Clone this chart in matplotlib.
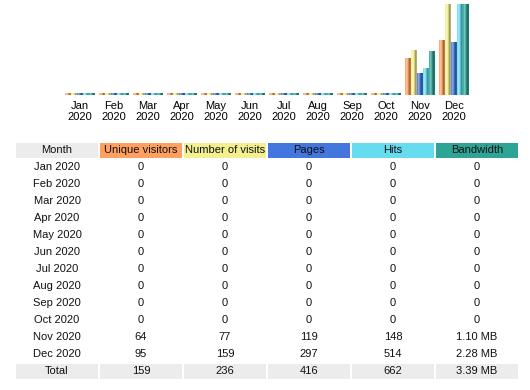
import numpy as np
import matplotlib
matplotlib.use('Agg')
import matplotlib.pyplot as plt
from matplotlib.colors import LinearSegmentedColormap, to_rgb
from matplotlib.patches import Rectangle

plt.rcParams['font.family'] = ['Liberation Sans', 'DejaVu Sans']

months = ['Jan', 'Feb', 'Mar', 'Apr', 'May', 'Jun', 'Jul', 'Aug', 'Sep', 'Oct', 'Nov', 'Dec']
year = '2020'
visitors = [0, 0, 0, 0, 0, 0, 0, 0, 0, 0, 64, 95]
visits = [0, 0, 0, 0, 0, 0, 0, 0, 0, 0, 77, 159]
pages = [0, 0, 0, 0, 0, 0, 0, 0, 0, 0, 119, 297]
hits = [0, 0, 0, 0, 0, 0, 0, 0, 0, 0, 148, 514]
bandwidth_mb = [0, 0, 0, 0, 0, 0, 0, 0, 0, 0, 1.10, 2.28]
bandwidth_txt = ['0'] * 10 + ['1.10 MB', '2.28 MB']
totals = ['159', '236', '416', '662', '3.39 MB']
headers = ['Month', 'Unique visitors', 'Number of visits', 'Pages', 'Hits', 'Bandwidth']
colors = ['#FFA060', '#F4F090', '#4477DD', '#66DDEE', '#2EA495']

W, H = 530, 390
fig = plt.figure(figsize=(W / 100, H / 100), dpi=100)

# ---- bar chart (awstats style: visitors/visits share a scale, pages/hits too)
def scale(vals, vmax):
    return [v / vmax for v in vals]

vmax1 = max(visits)
vmax2 = max(hits)
vmax3 = max(bandwidth_mb)
series = [scale(visitors, vmax1), scale(visits, vmax1),
          scale(pages, vmax2), scale(hits, vmax2),
          scale(bandwidth_mb, vmax3)]

x_left, x_right, y_base, y_top = 63, 471, 95, 4
ax = fig.add_axes([x_left / W, (H - y_base) / H, (x_right - x_left) / W, (y_base - y_top) / H])

def shade(c):
    r = np.array(to_rgb(c))
    light = r + (1 - r) * 0.45
    dark = r * 0.6
    return LinearSegmentedColormap.from_list('s', [r, light, r, dark, r * 0.8])

grad = np.linspace(0, 1, 32).reshape(1, -1)
bw = 6 / 34
minh = 1.2 / (y_base - y_top)
for k, vals in enumerate(series):
    cm = shade(colors[k])
    for i, v in enumerate(vals):
        x0 = i + (k - 2.5) * bw
        h = max(v, minh)
        ax.imshow(grad, extent=[x0, x0 + bw, 0, h], aspect='auto', cmap=cm,
                  interpolation='bilinear')

ax.set_xlim(-0.5, 11.5)
ax.set_ylim(0, 1)
ax.set_xticks(range(12))
ax.set_xticklabels([m + '\n' + year for m in months], fontsize=8, linespacing=1.15)
ax.tick_params(axis='x', length=0, pad=4)
ax.set_yticks([])
for s in ax.spines.values():
    s.set_visible(False)

# ---- table
tab = fig.add_axes([0, 0, 1, 1])
tab.set_xlim(0, W)
tab.set_ylim(H, 0)
tab.axis('off')

col_x = [16, 100, 184, 268, 352, 436]
col_w = 82
row_h = 15
y0 = 150
dy = 17

for j, name in enumerate(headers):
    fc = '#ECECEC' if j == 0 else colors[j - 1]
    tab.add_patch(Rectangle((col_x[j], y0 - row_h / 2), col_w, row_h, facecolor=fc, edgecolor='none'))
    tab.text(col_x[j] + col_w / 2, y0, name, ha='center', va='center', fontsize=8, color='#111111')

cols = [visitors, visits, pages, hits]
for i, m in enumerate(months):
    yy = y0 + dy * (i + 1)
    row = [m + ' ' + year] + [str(c[i]) for c in cols] + [bandwidth_txt[i]]
    for j, t in enumerate(row):
        tab.text(col_x[j] + col_w / 2, yy, t, ha='center', va='center', fontsize=8, color='#111111')

yy = y0 + dy * 13
for j, t in enumerate(['Total'] + totals):
    tab.add_patch(Rectangle((col_x[j], yy - row_h / 2), col_w, row_h, facecolor='#ECECEC', edgecolor='none'))
    tab.text(col_x[j] + col_w / 2, yy, t, ha='center', va='center', fontsize=8, color='#111111')

fig.savefig('out.png', dpi=100)
